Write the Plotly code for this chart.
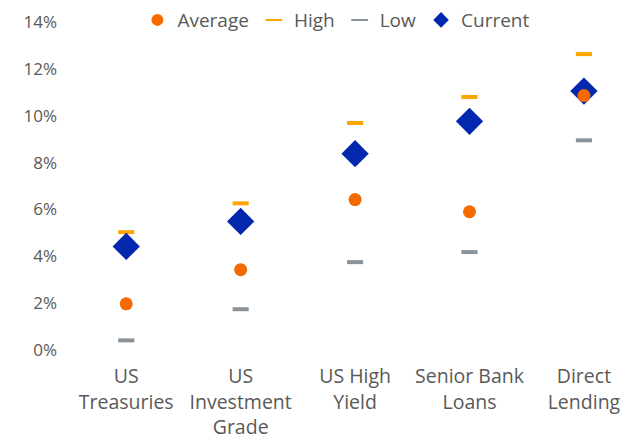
import plotly.graph_objects as go

categories = ["US<br>Treasuries", "US<br>Investment<br>Grade", "US High<br>Yield",
              "Senior Bank<br>Loans", "Direct<br>Lending"]
average = [1.97, 3.43, 6.42, 5.90, 10.86]
high = [5.03, 6.26, 9.69, 10.80, 12.63]
low = [0.41, 1.74, 3.75, 4.18, 8.95]
current = [4.42, 5.49, 8.38, 9.76, 11.05]
tick_vals = [0, 2, 4, 6, 8, 10, 12, 14]
tick_text = ["0%", "2%", "4%", "6%", "8%", "10%", "12%", "14%"]

FONT = "Open Sans"
TXT = "#595959"

fig = go.Figure()

fig.add_trace(go.Scatter(
    x=categories, y=average, mode="markers", name="Average", zorder=2,
    marker=dict(symbol="circle", size=13, color="#F56A00"),
))
fig.add_trace(go.Scatter(
    x=categories, y=high, mode="markers", name="High", zorder=1,
    marker=dict(symbol="line-ew", size=11.5, color="#FFA500",
                line=dict(color="#FFA500", width=4)),
))
fig.add_trace(go.Scatter(
    x=categories, y=low, mode="markers", name="Low", zorder=1,
    marker=dict(symbol="line-ew", size=11.5, color="#8A939A",
                line=dict(color="#8A939A", width=4)),
))
fig.add_trace(go.Scatter(
    x=categories, y=current, mode="markers", name="Current", zorder=1,
    marker=dict(symbol="diamond", size=21, color="#0328AE"),
))

# page body has an 8px margin, so the figure is drawn 8px smaller
fig.update_layout(
    width=624, height=431,
    margin=dict(l=61, r=0, t=14, b=89, autoexpand=False),
    plot_bgcolor="white", paper_bgcolor="white",
    font=dict(family=FONT, color=TXT, size=16),
    legend=dict(orientation="h", x=0.475, xanchor="center", y=1.006, yanchor="middle",
                font=dict(size=19, color=TXT), traceorder="normal",
                itemwidth=30, itemsizing="constant", bgcolor="rgba(0,0,0,0)"),
    showlegend=True,
)
fig.update_xaxes(
    type="category", range=[-0.5, 4.42], showgrid=False, zeroline=False,
    showline=True, linecolor="#D9D9D9", linewidth=2, ticks="",
    ticklabelstandoff=8,
    tickfont=dict(size=19.5, color=TXT, family=FONT),
)
fig.update_yaxes(
    range=[0, 14], tickvals=tick_vals, ticktext=tick_text, showgrid=False,
    zeroline=False, showline=False, ticks="", ticklabelstandoff=11,
    tickfont=dict(size=17, color=TXT, family=FONT),
)

fig.write_html("out.html")
